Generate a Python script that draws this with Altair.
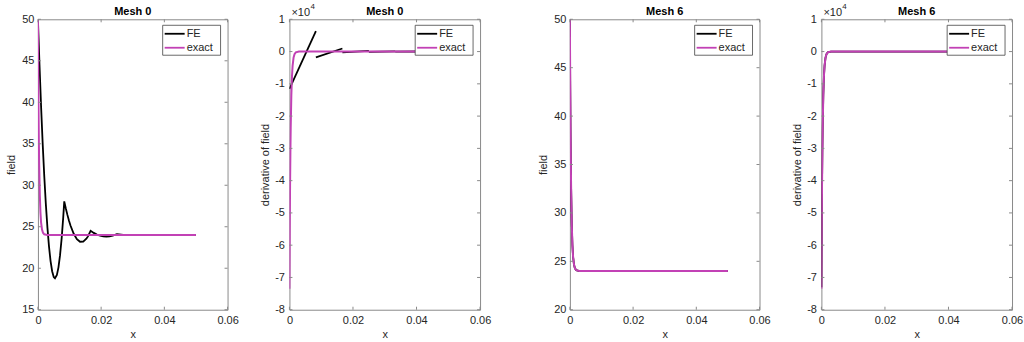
import altair as alt
import pandas as pd

FONT = "Liberation Sans"
TEXT = "#262626"
MAGENTA = "#C241B5"
BOX = "#8a8a8a"

# axis ticks
x_ticks = [0, 0.02, 0.04, 0.06]
field0_ticks = [15, 20, 25, 30, 35, 40, 45, 50]
field6_ticks = [20, 25, 30, 35, 40, 45, 50]
deriv_ticks = [-80000, -70000, -60000, -50000, -40000, -30000, -20000, -10000, 0, 10000]

# exact solution
exact_x = [0, 0.0001, 0.0002, 0.0003, 0.0004, 0.0006, 0.0008, 0.001, 0.0013,
           0.0016, 0.002, 0.003, 0.004, 0.05]
exact_field = [50, 43.6, 38.8, 35.1, 32.4, 28.8, 26.7, 25.5, 24.66,
               24.28, 24.09, 24.0, 24.0, 24.0]
exact_deriv = [-73500, -55400, -41700, -31500, -23700, -13500, -7650, -4350, -1870,
               -800, -260, -15, 0, 0]

# Mesh 0: FE field (six quadratic elements)
fe0_x = [0, 0.0005, 0.001, 0.0015, 0.002, 0.0025, 0.003, 0.0035, 0.004, 0.0045,
         0.005, 0.0054, 0.006, 0.0065, 0.007, 0.0075, 0.008, 0.00833,
         0.00883, 0.00933, 0.00983, 0.01033, 0.01133, 0.01233, 0.01333, 0.01433,
         0.01533, 0.01583, 0.01667,
         0.01767, 0.01867, 0.01967, 0.02067, 0.02167, 0.02267, 0.02367, 0.025,
         0.027, 0.029, 0.031, 0.0333, 0.0367, 0.0417, 0.05]
fe0_field = [50, 44.48, 39.49, 35.05, 31.14, 27.76, 24.93, 22.63, 20.86, 19.64,
             18.95, 18.79, 19.18, 20.11, 21.57, 23.56, 26.1, 28.06,
             27.2, 26.43, 25.73, 25.12, 24.15, 23.5, 23.19, 23.2,
             23.55, 23.84, 24.51,
             24.26, 24.06, 23.93, 23.84, 23.81, 23.84, 23.92, 24.11,
             24.02, 23.98, 23.98, 24.02, 23.99, 24.0, 24.0]

# Mesh 0: FE derivative, linear on each element (discontinuous at nodes)
fe0_dx = [0, 0.00833, 0.00833, 0.01667, 0.01667, 0.025,
          0.025, 0.0333, 0.0333, 0.0417, 0.0417, 0.05]
fe0_deriv = [-11580, 6313, -1800, 950, -278, 183,
             -70, 60, -20, 15, -5, 5]
fe0_elem = [1, 1, 2, 2, 3, 3, 4, 4, 5, 5, 6, 6]

# Mesh 6: FE solution
fe6_x = [0, 0.0001, 0.0002, 0.0003, 0.0004, 0.0006, 0.0008, 0.001, 0.0013,
         0.0016, 0.002, 0.003, 0.004, 0.05]
fe6_field = [50, 43.6, 38.8, 35.1, 32.4, 28.8, 26.7, 25.5, 24.66,
             24.28, 24.09, 24.0, 24.0, 24.0]
fe6_deriv = [-73000, -55200, -41600, -31400, -23700, -13500, -7650, -4350, -1870,
             -800, -260, -15, 0, 0]

H = 291


def panel(title, fe_df, ex_df, ydom, yticks, ytitle, width, sci=False):
    W = width
    xs = alt.Scale(domain=[0, 0.06], nice=False, zero=False)
    ys = alt.Scale(domain=ydom, nice=False, zero=False)
    common = dict(ticks=False, domain=False, grid=False,
                  labelFont=FONT, labelFontSize=11, labelColor=TEXT,
                  titleFont=FONT, titleFontSize=11, titleFontWeight="normal",
                  titleColor=TEXT)
    xaxis = alt.Axis(values=x_ticks, labelPadding=5, title="x", titlePadding=3,
                     format="~g", labelFlush=False, **common)
    if sci:
        yaxis = alt.Axis(values=yticks, labelPadding=5, title=ytitle, titlePadding=4,
                         labelExpr="'' + (datum.value / 10000)", **common)
    else:
        yaxis = alt.Axis(values=yticks, labelPadding=4, title=ytitle, titlePadding=5,
                         format="d", **common)
    X = alt.X("x:Q", scale=xs, axis=xaxis)
    Y = alt.Y("y:Q", scale=ys, axis=yaxis)

    fe = alt.Chart(fe_df).mark_line(color="black", strokeWidth=1.8, clip=True).encode(
        x=X, y=Y, detail="elem:N")
    ex = alt.Chart(ex_df).mark_line(color=MAGENTA, strokeWidth=2, clip=True).encode(x=X, y=Y)

    # inward tick marks on all four sides of the box
    xt = pd.DataFrame({"x": x_ticks})
    yt = pd.DataFrame({"y": yticks})
    tick_style = dict(color=BOX, strokeWidth=1)
    tb = alt.Chart(xt).mark_rule(**tick_style).encode(x=X, y=alt.value(H), y2=alt.value(H - 3))
    tt = alt.Chart(xt).mark_rule(**tick_style).encode(x=X, y=alt.value(0), y2=alt.value(3))
    tl = alt.Chart(yt).mark_rule(**tick_style).encode(y=Y, x=alt.value(0), x2=alt.value(3))
    tr = alt.Chart(yt).mark_rule(**tick_style).encode(y=Y, x=alt.value(W), x2=alt.value(W - 3))

    # legend box in the upper right corner
    one = pd.DataFrame({"k": [0]})
    box = alt.Chart(one).mark_rect(fill="white", stroke="#444444", strokeWidth=0.8).encode(
        x=alt.value(W - 65), x2=alt.value(W - 7), y=alt.value(6), y2=alt.value(36))
    entries = []
    for label, colour, yy in [("FE", "black", 14.5), ("exact", MAGENTA, 28.5)]:
        entries.append(alt.Chart(one).mark_rule(color=colour, strokeWidth=1.8).encode(
            x=alt.value(W - 63), x2=alt.value(W - 43), y=alt.value(yy)))
        entries.append(alt.Chart(one).mark_text(
            align="left", baseline="middle", font=FONT, fontSize=11, color=TEXT).encode(
            x=alt.value(W - 41), y=alt.value(yy), text=alt.value(label)))

    heading = alt.Chart(one).mark_text(
        align="center", baseline="alphabetic", font=FONT, fontSize=11,
        fontWeight="bold", color="black").encode(
        x=alt.value(W / 2), y=alt.value(-4), text=alt.value(title))

    layers = [fe, ex, tb, tt, tl, tr, box] + entries + [heading]
    if sci:
        layers.append(alt.Chart(one).mark_text(
            align="left", baseline="alphabetic", font=FONT, fontSize=11, color=TEXT).encode(
            x=alt.value(2), y=alt.value(-3), text=alt.value("×10")))
        layers.append(alt.Chart(one).mark_text(
            align="left", baseline="alphabetic", font=FONT, fontSize=8, color=TEXT).encode(
            x=alt.value(21), y=alt.value(-10), text=alt.value("4")))

    return alt.layer(*layers).properties(width=W, height=H)


fe0_f = pd.DataFrame({"x": fe0_x, "y": fe0_field, "elem": 1})
fe0_d = pd.DataFrame({"x": fe0_dx, "y": fe0_deriv, "elem": fe0_elem})
ex_f = pd.DataFrame({"x": exact_x, "y": exact_field})
ex_d = pd.DataFrame({"x": exact_x, "y": exact_deriv})
fe6_f = pd.DataFrame({"x": fe6_x, "y": fe6_field, "elem": 1})
fe6_d = pd.DataFrame({"x": fe6_x, "y": fe6_deriv, "elem": 1})

p1 = panel("Mesh 0", fe0_f, ex_f, [15, 50], field0_ticks, "field", 190)
p2 = panel("Mesh 0", fe0_d, ex_d, [-80000, 10000], deriv_ticks, "derivative of field", 191, sci=True)
p3 = panel("Mesh 6", fe6_f, ex_f, [20, 50], field6_ticks, "field", 190)
p4 = panel("Mesh 6", fe6_d, ex_d, [-80000, 10000], deriv_ticks, "derivative of field", 191, sci=True)

chart = alt.hconcat(
    alt.hconcat(p1, p2, spacing=19),
    alt.hconcat(p3, p4, spacing=19),
    spacing=45,
).properties(
    padding={"left": 5, "top": 2, "right": 0, "bottom": 0},
    background="white",
).configure_view(
    stroke=BOX, strokeWidth=1
)

chart.save("out.html", embed_options={"renderer": "svg", "actions": False})
